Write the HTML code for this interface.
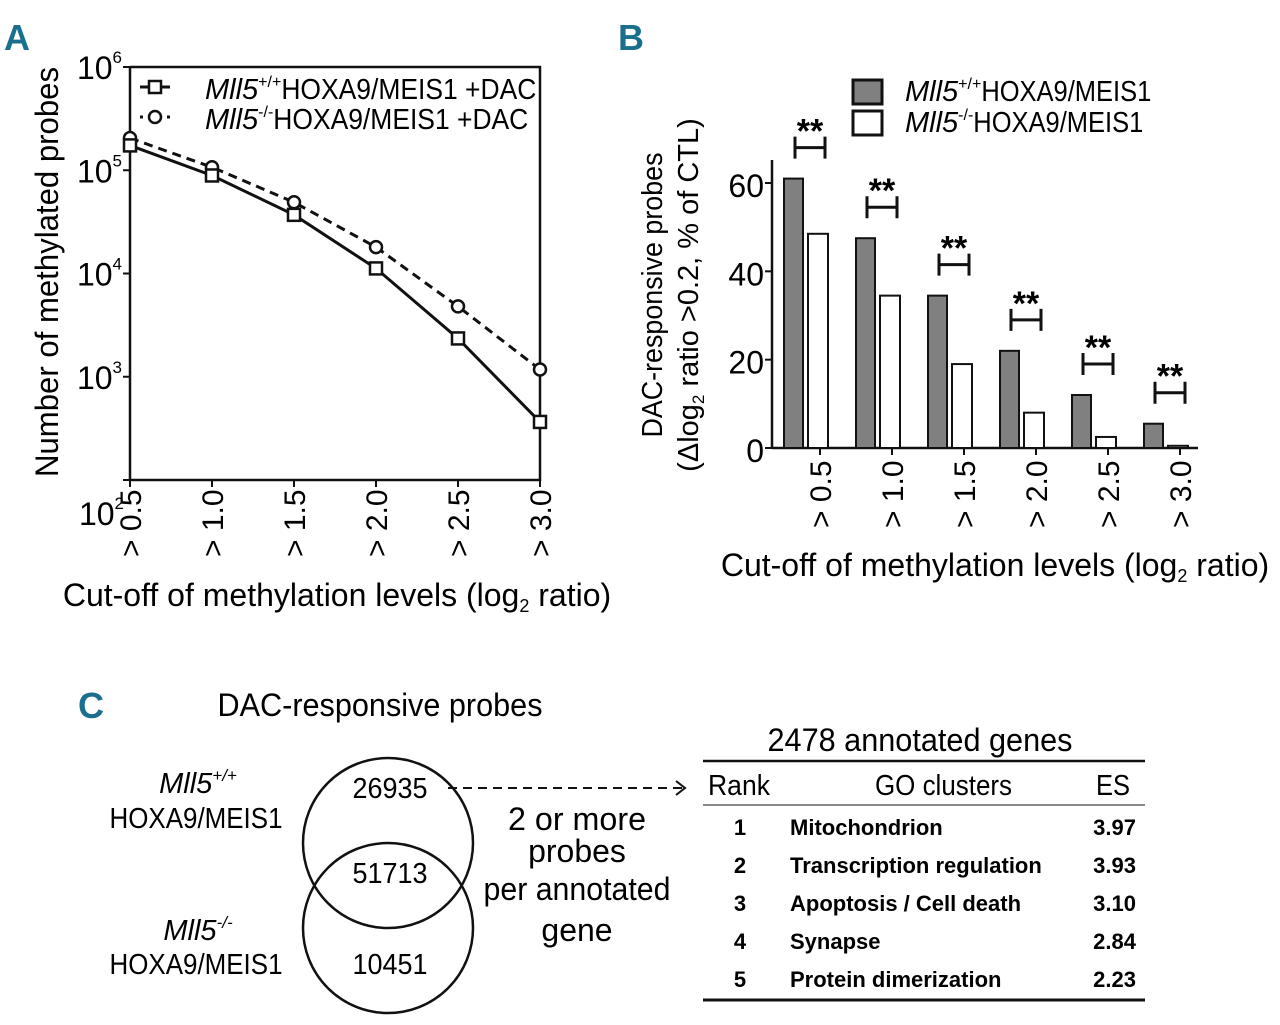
<!DOCTYPE html>
<html><head><meta charset="utf-8"><style>
html,body{margin:0;padding:0;background:#fff;}
svg{display:block;font-family:"Liberation Sans Narrow","Liberation Sans",sans-serif;}
.b{font-family:"Liberation Sans",sans-serif;font-weight:bold;}
</style></head><body>
<svg id="fig" width="1280" height="1025" viewBox="0 0 1280 1025">
<g fill="#1a6f8e" font-weight="bold" font-size="36">
<text x="4" y="50">A</text>
<text x="618" y="50">B</text>
<text x="78" y="718">C</text>
</g>
<g id="panelA"></g>
<g id="panelB"></g>
<g id="panelC">
<text x="380" y="716" font-size="32" text-anchor="middle" textLength="325" lengthAdjust="spacingAndGlyphs">DAC-responsive probes</text>
<ellipse cx="388" cy="843" rx="85" ry="85" fill="none" stroke="#111" stroke-width="2.5"/>
<ellipse cx="388" cy="928" rx="85" ry="85" fill="none" stroke="#111" stroke-width="2.5"/>
<text x="390" y="798" font-size="29" text-anchor="middle" textLength="75" lengthAdjust="spacingAndGlyphs">26935</text>
<text x="390" y="883" font-size="29" text-anchor="middle" textLength="75" lengthAdjust="spacingAndGlyphs">51713</text>
<text x="390" y="974" font-size="29" text-anchor="middle" textLength="75" lengthAdjust="spacingAndGlyphs">10451</text>
<text x="198" y="793" font-size="29" text-anchor="middle" font-style="italic">Mll5<tspan font-size="17" dy="-12">+/+</tspan></text>
<text x="196" y="828" font-size="29" text-anchor="middle" textLength="173" lengthAdjust="spacingAndGlyphs">HOXA9/MEIS1</text>
<text x="198" y="940" font-size="29" text-anchor="middle" font-style="italic">Mll5<tspan font-size="17" dy="-12">-/-</tspan></text>
<text x="196" y="974" font-size="29" text-anchor="middle" textLength="173" lengthAdjust="spacingAndGlyphs">HOXA9/MEIS1</text>
<line x1="448" y1="788" x2="682" y2="788" stroke="#111" stroke-width="2" stroke-dasharray="9,6"/>
<polyline points="676,781 685,788 676,795" fill="none" stroke="#111" stroke-width="2"/>
<g font-size="32" text-anchor="middle">
<text x="577" y="830" textLength="138" lengthAdjust="spacingAndGlyphs">2 or more</text><text x="577" y="862">probes</text><text x="577" y="900" textLength="187" lengthAdjust="spacingAndGlyphs">per annotated</text><text x="577" y="941">gene</text></g>
<text x="920" y="751" font-size="32" text-anchor="middle" textLength="305" lengthAdjust="spacingAndGlyphs">2478 annotated genes</text>
<line x1="703" y1="761" x2="1145" y2="761" stroke="#111" stroke-width="2.5"/>
<g font-size="29">
<text x="708" y="795" textLength="62" lengthAdjust="spacingAndGlyphs">Rank</text><text x="875" y="795" textLength="137" lengthAdjust="spacingAndGlyphs">GO clusters</text><text x="1096" y="795" textLength="34" lengthAdjust="spacingAndGlyphs">ES</text></g>
<line x1="703" y1="805" x2="1145" y2="805" stroke="#888" stroke-width="2"/>
<g id="rows" class="b" font-size="22"></g>
<line x1="703" y1="1000" x2="1145" y2="1000" stroke="#111" stroke-width="3"/>
</g>
</svg>
<script>
var NS="http://www.w3.org/2000/svg";
function mk(tag,attrs,parent,txt){var e=document.createElementNS(NS,tag);for(var k in attrs)e.setAttribute(k,attrs[k]);if(txt!=null)e.textContent=txt;parent.appendChild(e);return e;}

// ---------- Panel A data ----------
var cutoffs=["0.5","1.0","1.5","2.0","2.5","3.0"];
var wtCounts=[174000,89000,37000,11200,2350,365];
var koCounts=[205000,107000,49000,18000,4800,1175];
var logTicks=[2,3,4,5,6];

// ---------- Panel B data ----------
var wtPercent=[61,47.5,34.5,22,12,5.5];
var koPercent=[48.5,34.5,19,8,2.5,0.5];
var pctTicks=[0,20,40,60];

// ---------- Table data ----------
var ranks=["1","2","3","4","5"];
var goClusters=["Mitochondrion","Transcription regulation","Apoptosis / Cell death","Synapse","Protein dimerization"];
var esValues=["3.97","3.93","3.10","2.84","2.23"];

// Panel A
(function(){
var g=document.getElementById('panelA');
var L=130,R=540,T=67,B=480;
function x(i){return L+i*(R-L)/(cutoffs.length-1);}
function y(v){var l=Math.log10(v);return B-(l-2)*(B-T)/4;}
var ax=mk('path',{d:'M'+L+' '+T+' L'+L+' '+B+' L'+R+' '+B+' L'+R+' '+T+' L'+L+' '+T,fill:'none',stroke:'#111','stroke-width':2.5},g);


logTicks.forEach(function(t){
 var yy=B-(t-2)*(B-T)/4;
 var tk=mk('line',{x1:L-7,y1:yy,x2:L,y2:yy,stroke:'#111','stroke-width':2},g);
 
 
 var ly=(t===2)?525:yy+12;
 var tx=mk('text',{x:(t===2)?L-6:L-8,y:ly,'font-size':32,'text-anchor':'end'},g,'10');
 mk('tspan',{'font-size':17,dy:-16},tx,String(t));
 
 
});
cutoffs.forEach(function(c,i){
 var xx=x(i);
 var tk=mk('line',{x1:xx,y1:B,x2:xx,y2:B+7,stroke:'#111','stroke-width':2},g);
 
 
 var tx=mk('text',{x:0,y:0,'font-size':30,transform:'translate('+(xx+11)+',557) rotate(-90)'},g,'> '+c);
 
 
});
var ko=mk('polyline',{points:koCounts.map(function(v,i){return x(i)+','+y(v);}).join(' '),fill:'none',stroke:'#111','stroke-width':3,'stroke-dasharray':'9,6'},g);


var wt=mk('polyline',{points:wtCounts.map(function(v,i){return x(i)+','+y(v);}).join(' '),fill:'none',stroke:'#111','stroke-width':3},g);


koCounts.forEach(function(v,i){
 var c=mk('circle',{cx:x(i),cy:y(v),r:6,fill:'#fff',stroke:'#111','stroke-width':2.5},g);
 
 
});
wtCounts.forEach(function(v,i){
 var r=mk('rect',{x:x(i)-6,y:y(v)-6,width:12,height:12,fill:'#fff',stroke:'#111','stroke-width':2.5},g);
 
 
});
var lg=mk('g',{},g);


mk('line',{x1:140,y1:87,x2:170,y2:87,stroke:'#111','stroke-width':3},lg);
mk('rect',{x:149,y:81,width:12,height:12,fill:'#fff',stroke:'#111','stroke-width':2.5},lg);
mk('line',{x1:140,y1:117,x2:170,y2:117,stroke:'#111','stroke-width':3,'stroke-dasharray':'3,6'},lg);
mk('circle',{cx:155,cy:117,r:6,fill:'#fff',stroke:'#111','stroke-width':2.5},lg);
var t1=mk('text',{x:205,y:99,'font-size':29},lg);
mk('tspan',{'font-style':'italic'},t1,'Mll5');mk('tspan',{'font-size':16,dy:-12},t1,'+/+');mk('tspan',{dy:12,textLength:255,lengthAdjust:'spacingAndGlyphs'},t1,'HOXA9/MEIS1 +DAC');
var t2=mk('text',{x:205,y:129,'font-size':29},lg);
mk('tspan',{'font-style':'italic'},t2,'Mll5');mk('tspan',{'font-size':16,dy:-12},t2,'-/-');mk('tspan',{dy:12,textLength:255,lengthAdjust:'spacingAndGlyphs'},t2,'HOXA9/MEIS1 +DAC');
var yt=mk('text',{x:0,y:0,'font-size':32,'text-anchor':'middle',transform:'translate(58,272) rotate(-90)',textLength:410,lengthAdjust:'spacingAndGlyphs'},g,'Number of methylated probes');


var xt=mk('text',{x:337,y:606,'font-size':32,'text-anchor':'middle'},g);


mk('tspan',{},xt,'Cut-off of methylation levels (log');mk('tspan',{'font-size':18,dy:6},xt,'2');mk('tspan',{dy:-6},xt,' ratio)');
})();

// Panel B
(function(){
var g=document.getElementById('panelB');
var L=772,R=1198,B=448,T=160;
var step=72,first=814;
function cx(i){return first+i*step;}
function y(v){return B-v*(265/60);}
var ya=mk('line',{x1:L,y1:T,x2:L,y2:B,stroke:'#111','stroke-width':2.5},g);


var xa=mk('line',{x1:L,y1:B,x2:R,y2:B,stroke:'#111','stroke-width':2.5},g);


pctTicks.forEach(function(t){
 var tk=mk('line',{x1:L-7,y1:y(t),x2:L,y2:y(t),stroke:'#111','stroke-width':2},g);
 
 
 var tx=mk('text',{x:L-8,y:y(t)+14,'font-size':32,'text-anchor':'end'},g,String(t));
 
 
});
cutoffs.forEach(function(c,i){
 var xx=cx(i)+6;
 var tk=mk('line',{x1:xx,y1:B,x2:xx,y2:B+7,stroke:'#111','stroke-width':2},g);
 
 
 var tx=mk('text',{x:0,y:0,'font-size':30,transform:'translate('+(xx+11)+','+(B+80)+') rotate(-90)'},g,'> '+c);
 
 
});
wtPercent.forEach(function(v,i){
 var r=mk('rect',{x:cx(i)-30,y:y(v),width:19,height:B-y(v),fill:'#808080',stroke:'#111','stroke-width':2},g);
 
 
});
koPercent.forEach(function(v,i){
 var r=mk('rect',{x:cx(i)-6,y:y(v),width:20,height:Math.max(1,B-y(v)),fill:'#fff',stroke:'#111','stroke-width':2},g);
 
 
});
wtPercent.forEach(function(v,i){
 var bx=cx(i)-19,yb=y(v)-20,yt=yb-22;
 var s=mk('g',{},g);
 
 
 mk('path',{d:'M'+bx+' '+yt+' L'+bx+' '+yb+' M'+bx+' '+((yt+yb)/2)+' L'+(bx+30)+' '+((yt+yb)/2)+' M'+(bx+30)+' '+yt+' L'+(bx+30)+' '+yb,fill:'none',stroke:'#111','stroke-width':3},s);
 mk('text',{x:bx+15,y:yt+6,'font-size':34,'font-weight':'bold','text-anchor':'middle','font-family':'Liberation Sans,sans-serif'},s,'**');
});
var lg=mk('g',{},g);


mk('rect',{x:853,y:80,width:29,height:24,fill:'#808080',stroke:'#111','stroke-width':3},lg);
mk('rect',{x:853,y:111,width:29,height:24,fill:'#fff',stroke:'#111','stroke-width':3},lg);
var t1=mk('text',{x:905,y:101,'font-size':29},lg);
mk('tspan',{'font-style':'italic'},t1,'Mll5');mk('tspan',{'font-size':16,dy:-12},t1,'+/+');mk('tspan',{dy:12,textLength:170,lengthAdjust:'spacingAndGlyphs'},t1,'HOXA9/MEIS1');
var t2=mk('text',{x:905,y:132,'font-size':29},lg);
mk('tspan',{'font-style':'italic'},t2,'Mll5');mk('tspan',{'font-size':16,dy:-12},t2,'-/-');mk('tspan',{dy:12,textLength:170,lengthAdjust:'spacingAndGlyphs'},t2,'HOXA9/MEIS1');
var y1=mk('text',{x:0,y:0,'font-size':29,'text-anchor':'middle',transform:'translate(662,295) rotate(-90)',textLength:285,lengthAdjust:'spacingAndGlyphs'},g,'DAC-responsive probes');


var y2=mk('text',{x:0,y:0,'font-size':29,'text-anchor':'middle',transform:'translate(698,295) rotate(-90)'},g);


mk('tspan',{},y2,'(Δlog');mk('tspan',{'font-size':17,dy:6},y2,'2');mk('tspan',{dy:-6},y2,' ratio >0.2, % of CTL)');
var xt=mk('text',{x:995,y:576,'font-size':32,'text-anchor':'middle'},g);


mk('tspan',{},xt,'Cut-off of methylation levels (log');mk('tspan',{'font-size':18,dy:6},xt,'2');mk('tspan',{dy:-6},xt,' ratio)');
})();

// Table rows
(function(){
var g=document.getElementById('rows');
ranks.forEach(function(r,i){
 var yy=835+i*38;
 var row=mk('g',{},g);
 
 
 mk('text',{x:740,y:yy,'text-anchor':'middle'},row,r);
 mk('text',{x:790,y:yy},row,goClusters[i]);
 mk('text',{x:1136,y:yy,'text-anchor':'end'},row,esValues[i]);
});
})();
</script>
</body></html>
